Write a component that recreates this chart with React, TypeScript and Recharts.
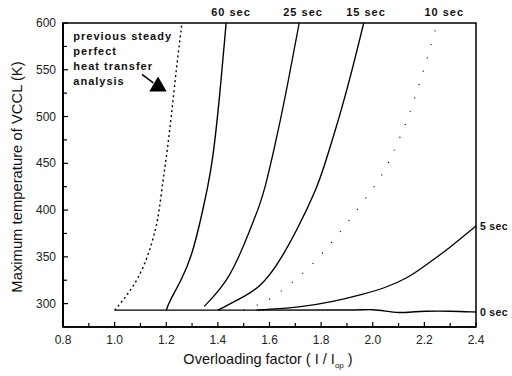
import {
  LineChart,
  Line,
  XAxis,
  YAxis,
  ZAxis,
  ReferenceArea,
  ReferenceDot,
  ReferenceLine,
  Scatter,
} from "recharts";

const FONT = '"Liberation Sans", Arial, sans-serif';

// axis ticks
const xTicks = [0.8, 0.9, 1.0, 1.1, 1.2, 1.3, 1.4, 1.5, 1.6, 1.7, 1.8, 1.9, 2.0, 2.1, 2.2, 2.3, 2.4];
const xTickLabels = ["0.8", "1.0", "1.2", "1.4", "1.6", "1.8", "2.0", "2.2", "2.4"];
const yTicks = [300, 325, 350, 375, 400, 425, 450, 475, 500, 525, 550, 575, 600];
const yTickLabels = ["300", "350", "400", "450", "500", "550", "600"];

// curves: [overloading factor, max temperature K]
const steady: number[][] = [
  [1.0, 293], [1.025, 301], [1.05, 310], [1.09, 326], [1.13, 351], [1.16, 380],
  [1.173, 400], [1.188, 433], [1.198, 451], [1.22, 500], [1.24, 554], [1.261, 600],
];
const sec60: number[][] = [
  [1.2, 293], [1.21, 301], [1.26, 326], [1.3, 351], [1.342, 400], [1.36, 424],
  [1.38, 453], [1.405, 515], [1.432, 600],
];
const sec25: number[][] = [
  [1.347, 297], [1.447, 326], [1.525, 379], [1.563, 406], [1.583, 424],
  [1.618, 465], [1.66, 519], [1.715, 600],
];
const sec15: number[][] = [
  [1.4, 293], [1.52, 310], [1.56, 318], [1.62, 336], [1.71, 380], [1.784, 424],
  [1.81, 445], [1.893, 519], [1.965, 600],
];
const sec10: number[][] = [
  [1.5, 293], [1.58, 301], [1.63, 310], [1.75, 336], [1.85, 368], [1.95, 404],
  [2.04, 438], [2.07, 456], [2.09, 468], [2.14, 500], [2.19, 543], [2.23, 580], [2.25, 600],
];
const sec5: number[][] = [
  [1.55, 293], [1.72, 296], [1.847, 302], [1.963, 310], [2.05, 317], [2.133, 327],
  [2.195, 339], [2.3, 360], [2.4, 383],
];
const sec0: number[][] = [
  [1.0, 293], [1.5, 293], [1.95, 293], [2.0, 294], [2.05, 292], [2.1, 290],
  [2.15, 291], [2.2, 292], [2.3, 292], [2.4, 291],
];

// curve labels
const topLabels = ["60 sec", "25 sec", "15 sec", "10 sec"];
const topLabelX = [1.451, 1.73, 1.974, 2.277];
const rightLabels = ["5 sec", "0 sec"];
const rightLabelY = [383, 291];
const noteLines = ["previous steady", "perfect", "heat transfer", "analysis"];
const noteY = [586, 570, 554, 538];
const marker = [{ x: 1.168, y: 532 }];

const toPts = (arr: number[][]) => arr.map(([x, y]) => ({ x, y }));

function XTick(props: any) {
  const { x, y, payload } = props;
  const label = payload.value.toFixed(1);
  const major = xTickLabels.includes(label);
  return (
    <g>
      <line x1={x} y1={y} x2={x} y2={y - (major ? 5 : 4)} stroke="#000" strokeWidth={1.2} />
      {major && (
        <text x={x} y={y + 17} textAnchor="middle" fontSize={12} fontFamily={FONT} fill="#222">
          {label}
        </text>
      )}
    </g>
  );
}

function YTick(props: any) {
  const { x, y, payload } = props;
  const label = String(payload.value);
  const major = yTickLabels.includes(label);
  return (
    <g>
      <line x1={x + 6} y1={y} x2={x + 6 + (major ? 5 : 4)} y2={y} stroke="#000" strokeWidth={1.2} />
      {major && (
        <text x={x - 1} y={y + 4} textAnchor="end" fontSize={12} fontFamily={FONT} fill="#222">
          {label}
        </text>
      )}
    </g>
  );
}

const labelStyle = { fontSize: 11, fontWeight: 700, fontFamily: FONT, fill: "#111", letterSpacing: 1 };
const sideStyle = { fontSize: 10.5, fontWeight: 700, fontFamily: FONT, fill: "#111", letterSpacing: 0.3 };

export default function App() {
  return (
    <div style={{ position: "absolute", left: 0, top: 0, background: "#fff" }}>
      <LineChart width={512} height={376} margin={{ top: 23, right: 36, bottom: 19, left: 0 }}>
        <XAxis
          type="number"
          dataKey="x"
          domain={[0.8, 2.4]}
          ticks={xTicks}
          tickSize={0}
          tickMargin={0}
          tick={<XTick />}
          height={30}
          axisLine={{ stroke: "#000", strokeWidth: 1.5 }}
          allowDuplicatedCategory={false}
          label={() => (
            <text x={268} y={364} textAnchor="middle" fontSize={14.5} fontFamily={FONT} fill="#111">
              Overloading factor ( I / I<tspan fontSize={8} dy={4}>op</tspan>
              <tspan dy={-4}> )</tspan>
            </text>
          )}
        />
        <YAxis
          type="number"
          domain={[275, 600]}
          ticks={yTicks}
          tickSize={0}
          tickMargin={6}
          tick={<YTick />}
          width={63}
          axisLine={{ stroke: "#000", strokeWidth: 2 }}
          label={() => (
            <text
              x={22}
              y={177}
              transform="rotate(-90, 22, 177)"
              textAnchor="middle"
              fontSize={14.8}
              fontFamily={FONT}
              fill="#111"
            >
              Maximum temperature of VCCL (K)
            </text>
          )}
        />
        <ZAxis range={[130, 130]} />
        <ReferenceArea x1={0.8} x2={2.4} y1={275} y2={600} fill="none" stroke="#000" strokeWidth={1.5} />

        <Line data={toPts(steady)} type="basis" dataKey="y" stroke="#000" strokeWidth={1.4} strokeDasharray="2 3" dot={false} isAnimationActive={false} />
        <Line data={toPts(sec60)} type="basis" dataKey="y" stroke="#000" strokeWidth={1.4} dot={false} isAnimationActive={false} />
        <Line data={toPts(sec25)} type="basis" dataKey="y" stroke="#000" strokeWidth={1.3} dot={false} isAnimationActive={false} />
        <Line data={toPts(sec15)} type="basis" dataKey="y" stroke="#000" strokeWidth={1.4} dot={false} isAnimationActive={false} />
        <Line data={toPts(sec10)} type="basis" dataKey="y" stroke="#000" strokeWidth={1.2} strokeDasharray="1 13" dot={false} isAnimationActive={false} />
        <Line data={toPts(sec5)} type="basis" dataKey="y" stroke="#000" strokeWidth={1.3} dot={false} isAnimationActive={false} />
        <Line data={toPts(sec0)} type="basis" dataKey="y" stroke="#000" strokeWidth={1.4} dot={false} isAnimationActive={false} />

        <ReferenceLine
          segment={[{ x: 1.106, y: 545 }, { x: 1.15, y: 536 }]}
          stroke="#000"
          strokeWidth={1.5}
        />
        <Scatter data={marker} dataKey="y" shape="triangle" fill="#000" isAnimationActive={false} />

        {topLabels.map((t, i) => (
          <ReferenceDot
            key={t}
            x={topLabelX[i]}
            y={600}
            r={0}
            ifOverflow="visible"
            label={{ value: t, position: "top", offset: 7, ...labelStyle }}
          />
        ))}
        {rightLabels.map((t, i) => (
          <ReferenceDot
            key={t}
            x={2.4}
            y={rightLabelY[i]}
            r={0}
            ifOverflow="visible"
            label={{ value: t, position: "right", offset: 4, ...sideStyle }}
          />
        ))}
        {noteLines.map((t, i) => (
          <ReferenceDot
            key={t}
            x={0.84}
            y={noteY[i]}
            r={0}
            ifOverflow="visible"
            label={{ value: t, position: "right", offset: 0, ...labelStyle }}
          />
        ))}
      </LineChart>
    </div>
  );
}
